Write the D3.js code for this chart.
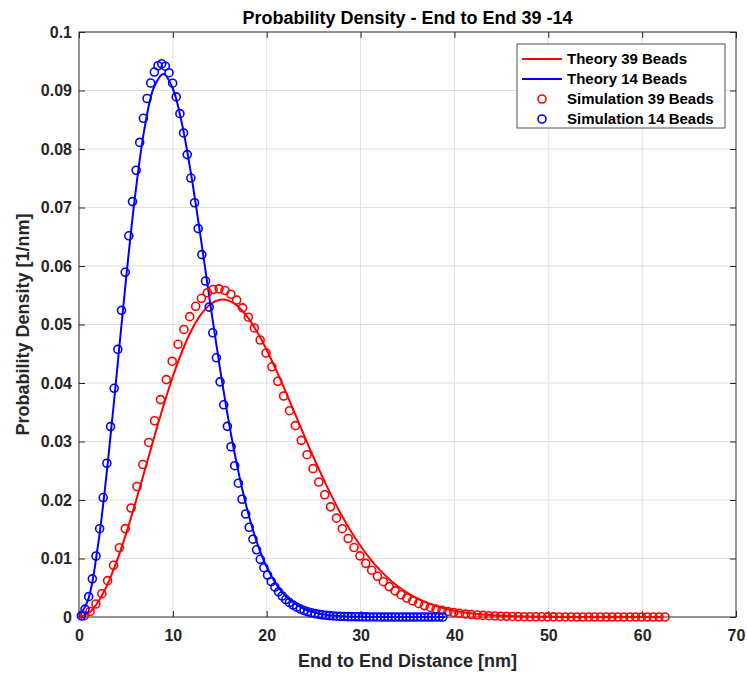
<!DOCTYPE html>
<html lang="en">
<head>
  <meta charset="UTF-8">
  <title>Probability Density - End to End 39 -14</title>
  <style>
    body {
      margin: 0;
      background: #fff;
    }
    svg {
      display: block;
      font-family: "Liberation Sans", Arial, Helvetica, sans-serif;
      font-weight: bold;
    }
    .grid line {
      stroke: #dfdfdf;
      stroke-width: 1px;
    }
    .frame {
      fill: none;
      stroke: #262626;
      stroke-width: 1px;
    }
    .theory {
      fill: none;
      stroke-width: 2px;
    }
    .sim {
      fill: none;
      stroke-width: 1.6px;
    }
  </style>
</head>
<body>
  <svg></svg>
  <script src="https://d3js.org/d3.v7.min.js"></script>
  <script>
    // theory curves, sampled every 1 nm
    const theoryX39 = [0, 1, 2, 3, 4, 5, 6, 7, 8, 9, 10, 11, 12, 13, 14, 15, 16, 17, 18, 19, 20,
      21, 22, 23, 24, 25, 26, 27, 28, 29, 30, 31, 32, 33, 34, 35, 36, 37, 38, 39, 40,
      41, 42, 43, 44, 45, 46, 47, 48, 49, 50, 51, 52, 53, 54, 55, 56, 57, 58, 59, 60, 61, 62];
    const theory39 = [0, 0.00063, 0.00248, 0.00546, 0.00942, 0.01416, 0.01945, 0.02504, 0.03068, 0.03611,
      0.04111, 0.04547, 0.04905, 0.05173, 0.05347, 0.05422, 0.05404, 0.0530, 0.05117, 0.04866,
      0.04565, 0.04223, 0.03858, 0.0348, 0.03099, 0.02727, 0.02373, 0.0204, 0.01734, 0.01458,
      0.01213, 0.00998, 0.00813, 0.00654, 0.00522, 0.00412, 0.00322, 0.00249, 0.00191, 0.00144,
      0.00108, 0.00081, 0.00059, 0.00043, 0.00031, 0.00022, 0.00016, 0.00011, 0.00008, 0.00005,
      0.00003, 0.00002, 0.00001, 0, 0, 0, 0, 0, 0, 0, 0, 0, 0];

    const theoryX14 = [0, 1, 2, 3, 4, 5, 6, 7, 8, 9, 10, 11, 12, 13, 14, 15, 16, 17, 18, 19, 20,
      21, 22, 23, 24, 25, 26, 27, 28, 29, 30, 31, 32, 33, 34, 35, 36, 37, 38, 39];
    const theory14 = [0, 0.00311, 0.01198, 0.02532, 0.04125, 0.0576, 0.0723, 0.0837, 0.0906, 0.0928,
      0.0903, 0.0841, 0.0751, 0.0645, 0.0534, 0.0427, 0.0330, 0.0247, 0.0179, 0.01254,
      0.00854, 0.00565, 0.00362, 0.00226, 0.00137, 0.0008, 0.00046, 0.00025, 0.00013, 0.00006,
      0.00003, 0.00001, 0, 0, 0, 0, 0, 0, 0, 0];

    // simulation histograms (bin centres and densities)
    const simX39 = [0.55, 1.18, 1.80, 2.43, 3.05, 3.68, 4.30, 4.93, 5.55, 6.18,
      6.80, 7.43, 8.05, 8.68, 9.30, 9.93, 10.55, 11.18, 11.80, 12.43,
      13.05, 13.68, 14.30, 14.93, 15.55, 16.18, 16.80, 17.43, 18.05, 18.68,
      19.30, 19.93, 20.55, 21.18, 21.80, 22.43, 23.05, 23.68, 24.30, 24.93,
      25.55, 26.18, 26.80, 27.43, 28.05, 28.68, 29.30, 29.93, 30.55, 31.18,
      31.80, 32.43, 33.05, 33.68, 34.30, 34.93, 35.55, 36.18, 36.80, 37.43,
      38.05, 38.68, 39.30, 39.93, 40.55, 41.18, 41.80, 42.43, 43.05, 43.68,
      44.30, 44.93, 45.55, 46.18, 46.80, 47.43, 48.05, 48.68, 49.30, 49.93,
      50.55, 51.18, 51.80, 52.43, 53.05, 53.68, 54.30, 54.93, 55.55, 56.18,
      56.80, 57.43, 58.05, 58.68, 59.30, 59.93, 60.55, 61.18, 61.80, 62.43];
    const sim39 = [0.00021, 0.00095, 0.00222, 0.00398, 0.00621, 0.00884, 0.01183, 0.01511, 0.01863, 0.02231,
      0.02606, 0.02984, 0.03355, 0.03716, 0.04058, 0.04373, 0.04662, 0.04915, 0.05134, 0.05311,
      0.05448, 0.05543, 0.05598, 0.05609, 0.05581, 0.05517, 0.05417, 0.05285, 0.05125, 0.04941,
      0.04735, 0.04513, 0.04277, 0.0403, 0.03778, 0.03526, 0.03271, 0.0302, 0.02774, 0.02536,
      0.02307, 0.0209, 0.01883, 0.0169, 0.01509, 0.01342, 0.01187, 0.01045, 0.00917, 0.008,
      0.00696, 0.00603, 0.0052, 0.00446, 0.00381, 0.00324, 0.00275, 0.00232, 0.00195, 0.00163,
      0.00136, 0.00113, 0.00093, 0.00077, 0.00063, 0.00051, 0.00042, 0.00034, 0.00027, 0.00022,
      0.00018, 0.00014, 0.00011, 0.00009, 0.00007, 0.00005, 0.00004, 0.00003, 0.00003, 0.00002,
      0.00002, 0.00001, 0.00001, 0.00001, 0, 0, 0, 0, 0, 0,
      0, 0, 0, 0, 0, 0, 0, 0, 0, 0];

    const simX14 = [0.25, 0.64, 1.03, 1.42, 1.81, 2.20, 2.58, 2.97, 3.36, 3.75,
      4.14, 4.53, 4.92, 5.31, 5.70, 6.09, 6.47, 6.86, 7.25, 7.64,
      8.03, 8.42, 8.81, 9.20, 9.59, 9.98, 10.36, 10.75, 11.14, 11.53,
      11.92, 12.31, 12.70, 13.09, 13.48, 13.87, 14.25, 14.64, 15.03, 15.42,
      15.81, 16.20, 16.59, 16.98, 17.37, 17.76, 18.14, 18.53, 18.92, 19.31,
      19.70, 20.09, 20.48, 20.87, 21.26, 21.65, 22.03, 22.42, 22.81, 23.20,
      23.59, 23.98, 24.37, 24.76, 25.15, 25.54, 25.92, 26.31, 26.70, 27.09,
      27.48, 27.87, 28.26, 28.65, 29.04, 29.43, 29.81, 30.20, 30.59, 30.98,
      31.37, 31.76, 32.15, 32.54, 32.93, 33.32, 33.70, 34.09, 34.48, 34.87,
      35.26, 35.65, 36.04, 36.43, 36.82, 37.21, 37.59, 37.98, 38.37, 38.76];
    const sim14 = [0.0002, 0.00135, 0.00348, 0.00652, 0.01043, 0.01509, 0.02042, 0.02628, 0.03255, 0.03909,
      0.04575, 0.05242, 0.05892, 0.06516, 0.07101, 0.07637, 0.08113, 0.08525, 0.08863, 0.09128,
      0.09315, 0.09423, 0.09456, 0.09415, 0.09304, 0.09125, 0.08891, 0.08604, 0.08274, 0.07904,
      0.07503, 0.07081, 0.06639, 0.06195, 0.05743, 0.05297, 0.04858, 0.04431, 0.0402, 0.03627,
      0.03259, 0.0291, 0.02586, 0.02287, 0.02013, 0.01761, 0.01534, 0.0133, 0.01149, 0.00986,
      0.00843, 0.00717, 0.00607, 0.00512, 0.0043, 0.00359, 0.00298, 0.00247, 0.00203, 0.00167,
      0.00136, 0.00111, 0.0009, 0.00072, 0.00058, 0.00046, 0.00037, 0.00029, 0.00023, 0.00018,
      0.00014, 0.00011, 0.00008, 0.00006, 0.00005, 0.00004, 0.00003, 0.00002, 0.00002, 0.00001,
      0.00001, 0.00001, 0, 0, 0, 0, 0, 0, 0, 0,
      0, 0, 0, 0, 0, 0, 0, 0, 0, 0];

    const xTicks = [0, 10, 20, 30, 40, 50, 60, 70];
    const yTicks = [0, 0.01, 0.02, 0.03, 0.04, 0.05, 0.06, 0.07, 0.08, 0.09, 0.1];
    const yTickLabels = ["0", "0.01", "0.02", "0.03", "0.04", "0.05", "0.06", "0.07", "0.08", "0.09", "0.1"];

    const legendItems = [
      { label: "Theory 39 Beads", color: "#ff0000", type: "line" },
      { label: "Theory 14 Beads", color: "#0000ff", type: "line" },
      { label: "Simulation 39 Beads", color: "#ff0000", type: "circle" },
      { label: "Simulation 14 Beads", color: "#0000ff", type: "circle" }
    ];

    const W = 747, H = 674;
    const margin = { top: 32, right: 11, bottom: 57, left: 79 };
    const width = W - margin.left - margin.right,
          height = H - margin.top - margin.bottom;

    const svg = d3.select("svg")
      .attr("width", W)
      .attr("height", H);

    svg.append("rect").attr("width", W).attr("height", H).attr("fill", "#fff");

    const g = svg.append("g")
      .attr("transform", `translate(${margin.left},${margin.top})`);

    const x = d3.scaleLinear().domain([0, 70]).range([0, width]);
    const y = d3.scaleLinear().domain([0, 0.1]).range([height, 0]);

    // grid
    const grid = g.append("g").attr("class", "grid");
    grid.selectAll(".gx").data(xTicks.slice(1, -1)).enter().append("line")
      .attr("x1", d => x(d)).attr("x2", d => x(d))
      .attr("y1", 0).attr("y2", height);
    grid.selectAll(".gy").data(yTicks.slice(1, -1)).enter().append("line")
      .attr("y1", d => y(d)).attr("y2", d => y(d))
      .attr("x1", 0).attr("x2", width);

    // axes with inward ticks on all four sides (matlab box style)
    const tickLen = 6;
    const axB = g.append("g").attr("transform", `translate(0,${height})`)
      .call(d3.axisBottom(x).tickValues(xTicks).tickSizeInner(-tickLen).tickSizeOuter(0));
    const axT = g.append("g")
      .call(d3.axisTop(x).tickValues(xTicks).tickSizeInner(-tickLen).tickSizeOuter(0).tickFormat(""));
    const axL = g.append("g")
      .call(d3.axisLeft(y).tickValues(yTicks).tickSizeInner(-tickLen).tickSizeOuter(0).tickPadding(7)
        .tickFormat((d, i) => yTickLabels[i]));
    const axR = g.append("g").attr("transform", `translate(${width},0)`)
      .call(d3.axisRight(y).tickValues(yTicks).tickSizeInner(-tickLen).tickSizeOuter(0).tickFormat(""));

    [axB, axT, axL, axR].forEach(a => {
      a.select(".domain").remove();
      a.selectAll(".tick line").attr("stroke", "#262626");
      a.selectAll("text")
        .style("font-family", "inherit").style("font-size", "16px").attr("fill", "#262626");
    });
    axB.selectAll("text").attr("dy", "0.71em").attr("y", 13);

    g.append("rect").attr("class", "frame")
      .attr("x", 0).attr("y", 0).attr("width", width).attr("height", height);

    // theory lines
    const line = d3.line()
      .x(d => x(d[0]))
      .y(d => y(d[1]))
      .curve(d3.curveCatmullRom);

    g.append("path").attr("class", "theory")
      .attr("stroke", "#ff0000")
      .attr("d", line(theoryX39.map((v, i) => [v, theory39[i]])));
    g.append("path").attr("class", "theory")
      .attr("stroke", "#0000ff")
      .attr("d", line(theoryX14.map((v, i) => [v, theory14[i]])));

    // simulation markers
    function drawSim(xs, ys, color) {
      g.append("g").selectAll("circle")
        .data(xs.map((v, i) => [v, ys[i]]))
        .enter().append("circle")
        .attr("class", "sim")
        .attr("cx", d => x(d[0]))
        .attr("cy", d => y(d[1]))
        .attr("r", 4)
        .attr("stroke", color);
    }
    drawSim(simX39, sim39, "#ff0000");
    drawSim(simX14, sim14, "#0000ff");

    // title + labels
    svg.append("text")
      .attr("x", margin.left + width / 2).attr("y", 24)
      .attr("text-anchor", "middle")
      .style("font-size", "18px").attr("fill", "#000")
      .text("Probability Density - End to End 39 -14");

    svg.append("text")
      .attr("x", margin.left + width / 2).attr("y", 667)
      .attr("text-anchor", "middle")
      .style("font-size", "18px").attr("fill", "#262626")
      .text("End to End Distance [nm]");

    svg.append("text")
      .attr("transform", `translate(29,${margin.top + height / 2}) rotate(-90)`)
      .attr("text-anchor", "middle")
      .style("font-size", "18px").attr("fill", "#262626")
      .text("Probability Density [1/nm]");

    // legend
    const lg = svg.append("g").attr("transform", "translate(517,44)");
    lg.append("rect")
      .attr("width", 208).attr("height", 84)
      .attr("fill", "#fff").attr("stroke", "#262626").attr("stroke-width", 0.8);
    const rows = lg.selectAll(".row").data(legendItems).enter().append("g")
      .attr("transform", (d, i) => `translate(0,${15 + i * 20})`);
    rows.filter(d => d.type === "line").append("line")
      .attr("x1", 5).attr("x2", 45).attr("y1", 0).attr("y2", 0)
      .attr("stroke", d => d.color).attr("stroke-width", 2);
    rows.filter(d => d.type === "circle").append("circle")
      .attr("cx", 25).attr("cy", 0).attr("r", 4)
      .attr("fill", "none").attr("stroke", d => d.color).attr("stroke-width", 1.6);
    rows.append("text")
      .attr("x", 50).attr("dy", "0.35em")
      .style("font-size", "15px").attr("fill", "#000")
      .text(d => d.label);
  </script>
</body>
</html>
